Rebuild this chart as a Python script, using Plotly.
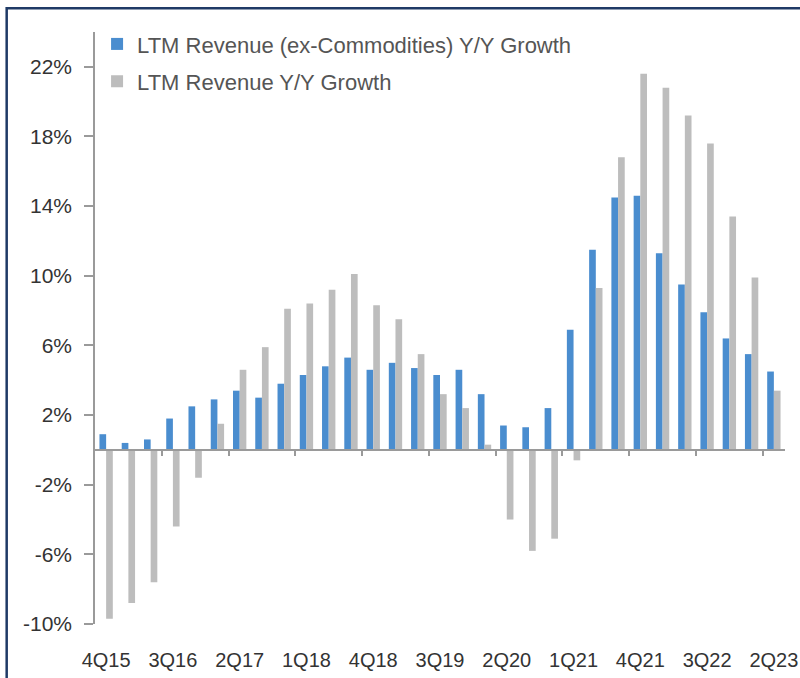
import plotly.graph_objects as go

# Quarters from 4Q15 through 2Q23
quarters = [
    "4Q15", "1Q16", "2Q16", "3Q16", "4Q16", "1Q17", "2Q17", "3Q17",
    "4Q17", "1Q18", "2Q18", "3Q18", "4Q18", "1Q19", "2Q19", "3Q19",
    "4Q19", "1Q20", "2Q20", "3Q20", "4Q20", "1Q21", "2Q21", "3Q21",
    "4Q21", "1Q22", "2Q22", "3Q22", "4Q22", "1Q23", "2Q23",
]

# LTM revenue growth, Y/Y, in percent
ex_commodities_growth = [
    0.9, 0.4, 0.6, 1.8, 2.5, 2.9, 3.4, 3.0, 3.8, 4.3, 4.8, 5.3, 4.6, 5.0, 4.7, 4.3,
    4.6, 3.2, 1.4, 1.3, 2.4, 6.9, 11.5, 14.5, 14.6, 11.3, 9.5, 7.9, 6.4, 5.5, 4.5,
]
total_growth = [
    -9.7, -8.8, -7.6, -4.4, -1.6, 1.5, 4.6, 5.9, 8.1, 8.4, 9.2, 10.1, 8.3, 7.5, 5.5, 3.2,
    2.4, 0.3, -4.0, -5.8, -5.1, -0.6, 9.3, 16.8, 21.6, 20.8, 19.2, 17.6, 13.4, 9.9, 3.4,
]

y_ticks = [-10, -6, -2, 2, 6, 10, 14, 18, 22]
y_min, y_max = -10, 24

idx = list(range(len(quarters)))
label_idx = idx[::3]
label_text = [quarters[i] for i in label_idx]
# separators between every third pair of bars, drawn on the zero line
sep_idx = [i - 0.5 for i in range(3, len(quarters), 3)]

BLUE = "#4a8dcf"
GREY = "#bdbdbd"
TEXT = "#333333"
FONT = "Liberation Sans, Arial, sans-serif"

fig = go.Figure()
fig.add_trace(go.Bar(
    x=idx, y=ex_commodities_growth, name="LTM Revenue (ex-Commodities) Y/Y Growth",
    marker=dict(color=BLUE, line=dict(width=0)), legend="legend",
))
fig.add_trace(go.Bar(
    x=idx, y=total_growth, name="LTM Revenue Y/Y Growth",
    marker=dict(color=GREY, line=dict(width=0)), legend="legend2",
))
# carrier for the zero-line axis with its separators
fig.add_trace(go.Scatter(
    x=idx, y=[0] * len(idx), mode="none", xaxis="x2", showlegend=False,
    hoverinfo="skip",
))

fig.update_layout(
    width=800, height=678,
    paper_bgcolor="white", plot_bgcolor="white",
    margin=dict(l=95, r=15, t=32, b=54),
    barmode="group", bargap=0.4, bargroupgap=0.0,
    font=dict(family=FONT, color=TEXT, size=20),
    xaxis=dict(
        range=[-0.5, len(quarters) - 0.5],
        tickmode="array", tickvals=label_idx, ticktext=label_text,
        showgrid=False, zeroline=False, showline=False, automargin=False,
        ticks="outside", ticklen=18, tickcolor="rgba(0,0,0,0)",
        tickfont=dict(size=20, color=TEXT),
    ),
    xaxis2=dict(
        overlaying="x", matches="x", anchor="free",
        position=(0 - y_min) / (y_max - y_min),
        tickmode="array", tickvals=sep_idx, showticklabels=False,
        ticks="outside", ticklen=5, tickcolor="#9a9a9a", tickwidth=1.5,
        showline=True, linecolor="#9a9a9a", linewidth=1.5,
        showgrid=False, zeroline=False,
    ),
    yaxis=dict(
        range=[y_min, y_max], automargin=False,
        tickmode="array", tickvals=y_ticks,
        ticktext=[f"{v}%" for v in y_ticks],
        showgrid=False, zeroline=False,
        showline=True, linecolor="#9a9a9a", linewidth=1.5,
        ticks="outside", ticklen=9, tickcolor="#9a9a9a", tickwidth=1.5,
        ticklabelstandoff=8,
        tickfont=dict(size=21, color=TEXT),
    ),
    legend=dict(
        x=0.003, y=1.015, xanchor="left", yanchor="top",
        bgcolor="rgba(0,0,0,0)", font=dict(size=22, color="#555555"),
        itemwidth=30, traceorder="normal",
    ),
    legend2=dict(
        x=0.003, y=0.952, xanchor="left", yanchor="top",
        bgcolor="rgba(0,0,0,0)", font=dict(size=22, color="#555555"),
        itemwidth=30,
    ),
    shapes=[dict(
        type="rect", xref="paper", yref="paper",
        x0=-0.128, x1=1.2, y0=-0.2, y1=1.04,
        line=dict(color="#1f3a66", width=2.5), fillcolor="rgba(0,0,0,0)",
        layer="above",
    )],
)

fig.write_html("out.html")
